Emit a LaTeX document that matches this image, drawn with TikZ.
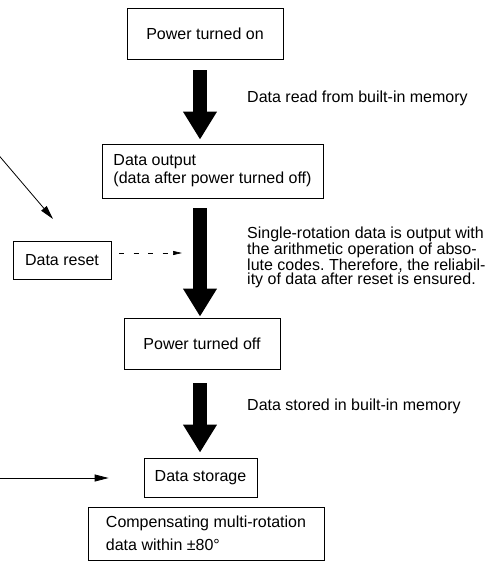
\documentclass[tikz,border=0pt]{standalone}
\usepackage{fontspec}
\setmainfont{Liberation Sans}
\usetikzlibrary{arrows.meta, positioning}
\frenchspacing

\tikzset{
  box/.style={draw, line width=0.8pt, inner sep=0pt},
  bigarrow/.style={line width=14pt, -{Triangle[length=28pt 0 0, width=32pt 0 0]}},
  thinarrow/.style={line width=0.8pt, -{Triangle[length=14pt 0 0, width=7pt 0 0]}},
  dasharrow/.style={line width=0.7pt, dash pattern=on 5pt off 9.5pt, -{Triangle[length=9pt 0 0, width=4pt 0 0]}},
  note/.style={inner sep=0pt, anchor=base west}
}

\begin{document}
\begin{tikzpicture}[x=1pt, y=-1pt, font=\fontsize{16}{13.8}\selectfont]
\useasboundingbox (0,0) rectangle (497,561);

% boxes of the flow
\node[box, minimum width=156pt, minimum height=51pt] (on) at (205,33.5) {Power turned on};
\node[box, minimum width=221pt, minimum height=54pt, align=left, font=\fontsize{16}{18}\selectfont] (output) at (212.5,171)
  {Data output\\(data after power turned off)};
\node[box, minimum width=98pt, minimum height=38pt] (reset) at (62,260) {Data reset};
\node[box, minimum width=156pt, minimum height=51pt] (off) at (202,343.5) {Power turned off};
\node[box, minimum width=113pt, minimum height=39pt] (store) at (200.5,477.5) {Data storage};
\node[box, minimum width=236pt, minimum height=53pt, align=left, font=\fontsize{16}{23}\selectfont] (comp) at (206,533.5)
  {Compensating multi-rotation\\data within ±80°};

% thick arrows, all on one vertical line
\coordinate (ax) at (200,0);
\draw[bigarrow, shorten <=11pt, shorten >=4pt] (on.south -| ax) -- (output.north -| ax);
\draw[bigarrow, shorten <=10pt, shorten >=1pt] (output.south -| ax) -- (off.north -| ax);
\draw[bigarrow, shorten <=14pt, shorten >=5pt] (off.south -| ax) -- (store.north -| ax);

% notes beside the arrows
\node[note] (readnote) at (247,102.7) {Data read from built-in memory};
\node[note, anchor=north west, align=left] (resetnote) at (247,227)
  {Single-rotation data is output with\\the arithmetic operation of abso-\\lute codes. Therefore, the reliabil-\\ity of data after reset is ensured.};
\node[note] (storenote) at (247,410.7) {Data stored in built-in memory};

% arrows coming in from the left
\coordinate (in1) at (-10,145);
\coordinate (tip1) at (53,219);
\draw[thinarrow] (in1) -- (tip1);
\coordinate (in2) at (0,478);
\draw[thinarrow, shorten >=35pt] (in2) -- (store.west |- in2);

% dashed arrow from the reset box
\coordinate (d0) at (119,253);
\coordinate (d1) at (182,253);
\draw[dasharrow] (d0) -- (d1);
\end{tikzpicture}
\end{document}
